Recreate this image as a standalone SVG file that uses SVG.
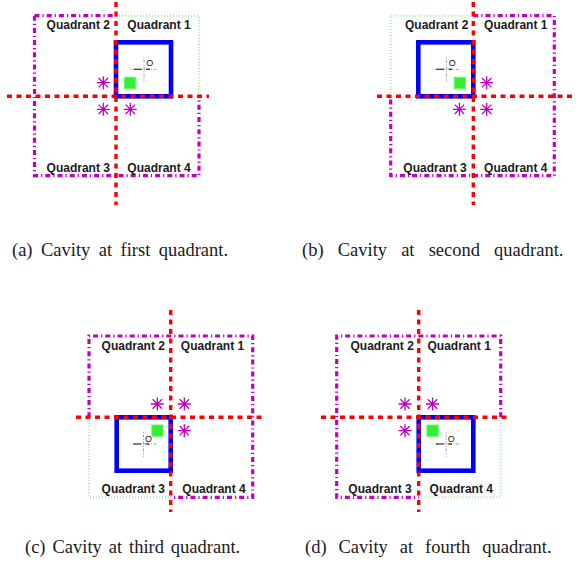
<svg xmlns="http://www.w3.org/2000/svg" xmlns:xlink="http://www.w3.org/1999/xlink" width="576" height="576" viewBox="0 0 576 576">
<style>
.mag{stroke:#c000c0;stroke-width:3.2;stroke-dasharray:5 3 1.2 3;fill:none}
.grn{stroke:#9eee9e;stroke-width:2;stroke-dasharray:1 2;fill:none}
.red{stroke:#ff0000;stroke-width:3.4;stroke-dasharray:5 4.5;fill:none}
.cav{stroke:#0000ff;stroke-width:4.6;fill:#ffffff}
.src{fill:#33ee33;stroke:#66ff66;stroke-width:1}
.ax{stroke:#999999;stroke-width:0.9;stroke-dasharray:1 1.5 3 1.5;fill:none}
.axk{stroke:#111111;stroke-width:1.1;fill:none}
.o{font-family:"Liberation Sans",Arial,sans-serif;font-size:9px;fill:#111111}
.q{font-family:"Liberation Sans",Arial,sans-serif;font-size:12px;font-weight:bold;fill:#1a1a1a;text-anchor:middle}
.cap{font-family:"Liberation Serif","Times New Roman",serif;font-size:18.5px;fill:#1a1a1a;word-spacing:3px}
</style>
<defs>
<g id="ast" stroke="#c000c0" stroke-width="1.3" fill="none">
<path d="M-6.5 0H6.5M0 -6.5V6.5M-4.7 -4.7L4.7 4.7M-4.7 4.7L4.7 -4.7"/>
</g>
</defs>

<g id="panel-a">
<g id="a-boundary">
<path class="mag" d="M34.5 15.7H116M34.5 15.7V175.7H199V96.3"/>
<path class="grn" d="M116 15.7H199V96.3"/>
</g>
<rect id="a-cavity" class="cav" x="116" y="42.3" width="55" height="54"/>
<rect id="a-source" class="src" x="124.5" y="77.2" width="11.3" height="11.3"/>
<g id="a-origin">
<path class="ax" d="M130 69.3H157M144 57.3V82"/>
<path class="axk" d="M134 69.3H141.5M146 69.3H150"/>
<text class="o" x="146.3" y="66">O</text>
</g>
<g id="a-images">
<use xlink:href="#ast" x="103.3" y="82.7"/>
<use xlink:href="#ast" x="103.3" y="109.3"/>
<use xlink:href="#ast" x="130.3" y="109.3"/>
</g>
<g id="a-connectors">
<path class="red" d="M116 2V205M7 96.3H209"/>
</g>
<g id="a-labels">
<text class="q" x="78.3" y="28.5">Quadrant 2</text>
<text class="q" x="159" y="28.5">Quadrant 1</text>
<text class="q" x="78.3" y="171.7">Quadrant 3</text>
<text class="q" x="159" y="171.7">Quadrant 4</text>
</g>
<text class="cap" x="12" y="256" style="word-spacing:3.8px">(a) Cavity at first quadrant.</text>
</g>

<g id="panel-b">
<g id="b-boundary">
<path class="mag" d="M473.3 15.7H554.3V175.7H390.7V96.3"/>
<path class="grn" d="M473.3 15.7H390.7V96.3"/>
</g>
<rect id="b-cavity" class="cav" x="418.3" y="42.3" width="55" height="54"/>
<rect id="b-source" class="src" x="454.2" y="77.2" width="11.3" height="11.3"/>
<g id="b-origin">
<path class="ax" d="M432.5 69.3H459.5M446.5 57.3V82"/>
<path class="axk" d="M436.5 69.3H444M448.5 69.3H452.5"/>
<text class="o" x="448.8" y="66">O</text>
</g>
<g id="b-images">
<use xlink:href="#ast" x="486.7" y="82.7"/>
<use xlink:href="#ast" x="459.5" y="109.3"/>
<use xlink:href="#ast" x="486.7" y="109.3"/>
</g>
<g id="b-connectors">
<path class="red" d="M473.3 2V205M377 96.3H576"/>
</g>
<g id="b-labels">
<text class="q" x="436.7" y="28.5">Quadrant 2</text>
<text class="q" x="515.8" y="28.5">Quadrant 1</text>
<text class="q" x="435" y="171.7">Quadrant 3</text>
<text class="q" x="515.8" y="171.7">Quadrant 4</text>
</g>
<text class="cap" x="302" y="256" style="word-spacing:9.5px">(b) Cavity at second quadrant.</text>
</g>

<g id="panel-c">
<g id="c-boundary">
<path class="mag" d="M89 417.3V336H252.7V497.3H170.7"/>
<path class="grn" d="M89 417.3V497.3H170.7"/>
</g>
<rect id="c-cavity" class="cav" x="116.7" y="417.3" width="54" height="53.4"/>
<rect id="c-source" class="src" x="151.8" y="425" width="11.3" height="11.3"/>
<g id="c-origin">
<path class="ax" d="M130 444H156.5M143.5 432V456.7"/>
<path class="axk" d="M133.5 444H141M145.5 444H149.5"/>
<text class="o" x="145" y="441.5">O</text>
</g>
<g id="c-images">
<use xlink:href="#ast" x="157.3" y="404"/>
<use xlink:href="#ast" x="184.3" y="404"/>
<use xlink:href="#ast" x="184.3" y="430.7"/>
</g>
<g id="c-connectors">
<path class="red" d="M170.7 310V512M76 417.3H263"/>
</g>
<g id="c-labels">
<text class="q" x="133.3" y="349.5">Quadrant 2</text>
<text class="q" x="212.5" y="349.5">Quadrant 1</text>
<text class="q" x="133.3" y="492.7">Quadrant 3</text>
<text class="q" x="214" y="492.7">Quadrant 4</text>
</g>
<text class="cap" x="25" y="553" style="word-spacing:2.3px">(c) Cavity at third quadrant.</text>
</g>

<g id="panel-d">
<g id="d-boundary">
<path class="mag" d="M500.7 417.3V336H336.7V497.3H418.7"/>
<path class="grn" d="M500.7 417.3V497.3H418.7"/>
</g>
<rect id="d-cavity" class="cav" x="418.7" y="417.3" width="54.6" height="53.4"/>
<rect id="d-source" class="src" x="426.9" y="425" width="11.3" height="11.3"/>
<g id="d-origin">
<path class="ax" d="M432.5 444H459M446 432V456.7"/>
<path class="axk" d="M436 444H443.5M448 444H452"/>
<text class="o" x="447.8" y="441.5">O</text>
</g>
<g id="d-images">
<use xlink:href="#ast" x="405" y="404"/>
<use xlink:href="#ast" x="432.5" y="404"/>
<use xlink:href="#ast" x="405" y="430.7"/>
</g>
<g id="d-connectors">
<path class="red" d="M418.7 310V512M321 417.3H511"/>
</g>
<g id="d-labels">
<text class="q" x="382.2" y="349.5">Quadrant 2</text>
<text class="q" x="459.2" y="349.5">Quadrant 1</text>
<text class="q" x="380" y="492.7">Quadrant 3</text>
<text class="q" x="461.3" y="492.7">Quadrant 4</text>
</g>
<text class="cap" x="305" y="553" style="word-spacing:7.3px">(d) Cavity at fourth quadrant.</text>
</g>
</svg>
